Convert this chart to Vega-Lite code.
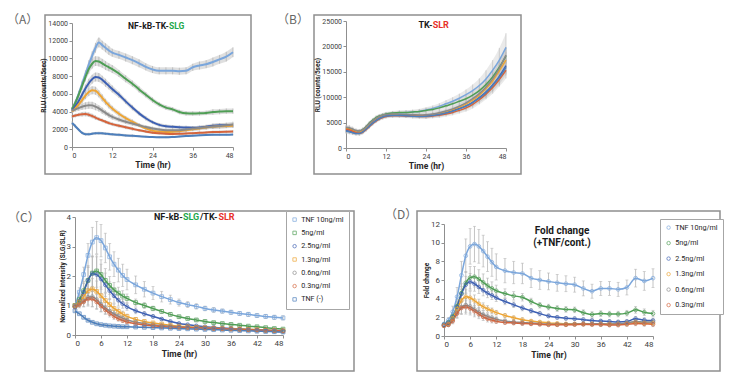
{
"$schema": "https://vega.github.io/schema/vega-lite/v6.json",
"padding": {"left": 6, "top": 12, "right": 0, "bottom": 0},
"background": "white",
"config": {
 "font": "Roboto",
 "view": {"stroke": "#8f8f8f", "strokeWidth": 1.5},
 "axis": {"grid": false, "labelFont": "Roboto", "labelColor": "#404040", "domainColor": "#8f8f8f", "tickColor": "#8f8f8f", "tickSize": 3, "labelPadding": 1.5, "titleFont": "Roboto", "titleFontWeight": "bold", "titleColor": "#262626", "titlePadding": 2},
 "axisX": {"titleFontSize": 8.5},
 "axisY": {"titleFontSize": 6.5, "titlePadding": 1}
},
"datasets": {
"A": [
{"s":"10","t":0,"v":4200,"e":250},{"s":"10","t":1,"v":5000,"e":300},{"s":"10","t":2,"v":6000,"e":350},{"s":"10","t":3,"v":7100,"e":400},{"s":"10","t":4,"v":8200,"e":450},{"s":"10","t":5,"v":9300,"e":500},{"s":"10","t":6,"v":10300,"e":500},{"s":"10","t":7,"v":11200,"e":550},{"s":"10","t":8,"v":11800,"e":550},{"s":"10","t":9,"v":11500,"e":500},{"s":"10","t":10,"v":11200,"e":500},{"s":"10","t":11,"v":10900,"e":500},{"s":"10","t":12,"v":10650,"e":450},{"s":"10","t":14,"v":10400,"e":450},{"s":"10","t":16,"v":10100,"e":450},{"s":"10","t":18,"v":9800,"e":450},{"s":"10","t":20,"v":9450,"e":450},{"s":"10","t":22,"v":9050,"e":400},{"s":"10","t":24,"v":8750,"e":400},{"s":"10","t":26,"v":8600,"e":400},{"s":"10","t":28,"v":8600,"e":400},{"s":"10","t":30,"v":8600,"e":400},{"s":"10","t":32,"v":8550,"e":400},{"s":"10","t":34,"v":8600,"e":400},{"s":"10","t":36,"v":9000,"e":400},{"s":"10","t":38,"v":9200,"e":450},{"s":"10","t":40,"v":9350,"e":450},{"s":"10","t":42,"v":9600,"e":500},{"s":"10","t":44,"v":9900,"e":500},{"s":"10","t":46,"v":10200,"e":550},{"s":"10","t":48,"v":10700,"e":550},
{"s":"5","t":0,"v":4300,"e":250},{"s":"5","t":1,"v":5000,"e":300},{"s":"5","t":2,"v":5900,"e":350},{"s":"5","t":3,"v":6900,"e":450},{"s":"5","t":4,"v":7900,"e":500},{"s":"5","t":5,"v":8800,"e":550},{"s":"5","t":6,"v":9400,"e":550},{"s":"5","t":7,"v":9700,"e":550},{"s":"5","t":8,"v":9650,"e":550},{"s":"5","t":9,"v":9450,"e":500},{"s":"5","t":10,"v":9200,"e":500},{"s":"5","t":11,"v":9000,"e":450},{"s":"5","t":12,"v":8800,"e":450},{"s":"5","t":14,"v":8300,"e":400},{"s":"5","t":16,"v":7700,"e":400},{"s":"5","t":18,"v":7150,"e":350},{"s":"5","t":20,"v":6500,"e":350},{"s":"5","t":22,"v":5900,"e":300},{"s":"5","t":24,"v":5300,"e":300},{"s":"5","t":26,"v":4800,"e":250},{"s":"5","t":28,"v":4450,"e":250},{"s":"5","t":30,"v":4250,"e":250},{"s":"5","t":32,"v":3950,"e":250},{"s":"5","t":34,"v":3800,"e":250},{"s":"5","t":36,"v":3780,"e":250},{"s":"5","t":38,"v":3800,"e":250},{"s":"5","t":40,"v":3850,"e":250},{"s":"5","t":42,"v":3950,"e":300},{"s":"5","t":44,"v":4000,"e":300},{"s":"5","t":46,"v":4050,"e":300},{"s":"5","t":48,"v":4050,"e":300},
{"s":"2.5","t":0,"v":4100,"e":250},{"s":"2.5","t":1,"v":4600,"e":300},{"s":"2.5","t":2,"v":5200,"e":350},{"s":"2.5","t":3,"v":5900,"e":400},{"s":"2.5","t":4,"v":6600,"e":450},{"s":"2.5","t":5,"v":7200,"e":500},{"s":"2.5","t":6,"v":7650,"e":500},{"s":"2.5","t":7,"v":7900,"e":500},{"s":"2.5","t":8,"v":7850,"e":500},{"s":"2.5","t":9,"v":7600,"e":450},{"s":"2.5","t":10,"v":7250,"e":450},{"s":"2.5","t":11,"v":6900,"e":400},{"s":"2.5","t":12,"v":6550,"e":400},{"s":"2.5","t":14,"v":5900,"e":350},{"s":"2.5","t":16,"v":5150,"e":300},{"s":"2.5","t":18,"v":4450,"e":300},{"s":"2.5","t":20,"v":3800,"e":250},{"s":"2.5","t":22,"v":3250,"e":250},{"s":"2.5","t":24,"v":2800,"e":200},{"s":"2.5","t":26,"v":2500,"e":200},{"s":"2.5","t":28,"v":2350,"e":200},{"s":"2.5","t":30,"v":2280,"e":200},{"s":"2.5","t":32,"v":2230,"e":200},{"s":"2.5","t":34,"v":2200,"e":200},{"s":"2.5","t":36,"v":2170,"e":200},{"s":"2.5","t":38,"v":2200,"e":200},{"s":"2.5","t":40,"v":2300,"e":200},{"s":"2.5","t":42,"v":2400,"e":250},{"s":"2.5","t":44,"v":2450,"e":250},{"s":"2.5","t":46,"v":2450,"e":250},{"s":"2.5","t":48,"v":2470,"e":250},
{"s":"1.3","t":0,"v":4000,"e":250},{"s":"1.3","t":1,"v":4350,"e":250},{"s":"1.3","t":2,"v":4800,"e":300},{"s":"1.3","t":3,"v":5300,"e":350},{"s":"1.3","t":4,"v":5800,"e":400},{"s":"1.3","t":5,"v":6200,"e":450},{"s":"1.3","t":6,"v":6400,"e":450},{"s":"1.3","t":7,"v":6350,"e":450},{"s":"1.3","t":8,"v":6000,"e":400},{"s":"1.3","t":9,"v":5550,"e":400},{"s":"1.3","t":10,"v":5100,"e":350},{"s":"1.3","t":11,"v":4700,"e":350},{"s":"1.3","t":12,"v":4350,"e":300},{"s":"1.3","t":14,"v":3750,"e":300},{"s":"1.3","t":16,"v":3250,"e":250},{"s":"1.3","t":18,"v":2850,"e":250},{"s":"1.3","t":20,"v":2450,"e":200},{"s":"1.3","t":22,"v":2100,"e":200},{"s":"1.3","t":24,"v":1850,"e":200},{"s":"1.3","t":26,"v":1750,"e":200},{"s":"1.3","t":28,"v":1700,"e":200},{"s":"1.3","t":30,"v":1720,"e":200},{"s":"1.3","t":32,"v":1780,"e":200},{"s":"1.3","t":34,"v":1880,"e":200},{"s":"1.3","t":36,"v":2000,"e":200},{"s":"1.3","t":38,"v":2100,"e":200},{"s":"1.3","t":40,"v":2200,"e":200},{"s":"1.3","t":42,"v":2280,"e":250},{"s":"1.3","t":44,"v":2340,"e":250},{"s":"1.3","t":46,"v":2380,"e":250},{"s":"1.3","t":48,"v":2400,"e":250},
{"s":"0.6","t":0,"v":4100,"e":250},{"s":"0.6","t":1,"v":4250,"e":250},{"s":"0.6","t":2,"v":4400,"e":300},{"s":"0.6","t":3,"v":4550,"e":350},{"s":"0.6","t":4,"v":4650,"e":400},{"s":"0.6","t":5,"v":4720,"e":400},{"s":"0.6","t":6,"v":4700,"e":400},{"s":"0.6","t":7,"v":4550,"e":400},{"s":"0.6","t":8,"v":4350,"e":350},{"s":"0.6","t":9,"v":4100,"e":350},{"s":"0.6","t":10,"v":3850,"e":300},{"s":"0.6","t":11,"v":3600,"e":300},{"s":"0.6","t":12,"v":3400,"e":300},{"s":"0.6","t":14,"v":3100,"e":250},{"s":"0.6","t":16,"v":2850,"e":250},{"s":"0.6","t":18,"v":2650,"e":250},{"s":"0.6","t":20,"v":2450,"e":200},{"s":"0.6","t":22,"v":2250,"e":200},{"s":"0.6","t":24,"v":2100,"e":200},{"s":"0.6","t":26,"v":1980,"e":200},{"s":"0.6","t":28,"v":1900,"e":200},{"s":"0.6","t":30,"v":1880,"e":200},{"s":"0.6","t":32,"v":1900,"e":200},{"s":"0.6","t":34,"v":1980,"e":200},{"s":"0.6","t":36,"v":2080,"e":250},{"s":"0.6","t":38,"v":2150,"e":250},{"s":"0.6","t":40,"v":2220,"e":250},{"s":"0.6","t":42,"v":2300,"e":250},{"s":"0.6","t":44,"v":2380,"e":300},{"s":"0.6","t":46,"v":2450,"e":300},{"s":"0.6","t":48,"v":2550,"e":300},
{"s":"0.3","t":0,"v":3450,"e":200},{"s":"0.3","t":1,"v":3550,"e":200},{"s":"0.3","t":2,"v":3650,"e":200},{"s":"0.3","t":3,"v":3700,"e":250},{"s":"0.3","t":4,"v":3720,"e":250},{"s":"0.3","t":5,"v":3650,"e":250},{"s":"0.3","t":6,"v":3500,"e":250},{"s":"0.3","t":7,"v":3320,"e":250},{"s":"0.3","t":8,"v":3150,"e":200},{"s":"0.3","t":9,"v":3000,"e":200},{"s":"0.3","t":10,"v":2850,"e":200},{"s":"0.3","t":11,"v":2700,"e":200},{"s":"0.3","t":12,"v":2580,"e":200},{"s":"0.3","t":14,"v":2400,"e":200},{"s":"0.3","t":16,"v":2220,"e":200},{"s":"0.3","t":18,"v":2050,"e":200},{"s":"0.3","t":20,"v":1880,"e":150},{"s":"0.3","t":22,"v":1740,"e":150},{"s":"0.3","t":24,"v":1620,"e":150},{"s":"0.3","t":26,"v":1550,"e":150},{"s":"0.3","t":28,"v":1500,"e":150},{"s":"0.3","t":30,"v":1480,"e":150},{"s":"0.3","t":32,"v":1490,"e":150},{"s":"0.3","t":34,"v":1520,"e":150},{"s":"0.3","t":36,"v":1560,"e":150},{"s":"0.3","t":38,"v":1600,"e":150},{"s":"0.3","t":40,"v":1640,"e":150},{"s":"0.3","t":42,"v":1680,"e":150},{"s":"0.3","t":44,"v":1700,"e":150},{"s":"0.3","t":46,"v":1720,"e":150},{"s":"0.3","t":48,"v":1750,"e":150},
{"s":"-","t":0,"v":2700,"e":200},{"s":"-","t":1,"v":2350,"e":200},{"s":"-","t":2,"v":1950,"e":150},{"s":"-","t":3,"v":1600,"e":150},{"s":"-","t":4,"v":1450,"e":150},{"s":"-","t":5,"v":1450,"e":150},{"s":"-","t":6,"v":1500,"e":150},{"s":"-","t":7,"v":1550,"e":150},{"s":"-","t":8,"v":1560,"e":150},{"s":"-","t":9,"v":1540,"e":150},{"s":"-","t":10,"v":1500,"e":150},{"s":"-","t":11,"v":1470,"e":150},{"s":"-","t":12,"v":1430,"e":150},{"s":"-","t":14,"v":1370,"e":150},{"s":"-","t":16,"v":1310,"e":150},{"s":"-","t":18,"v":1260,"e":150},{"s":"-","t":20,"v":1210,"e":100},{"s":"-","t":22,"v":1160,"e":100},{"s":"-","t":24,"v":1120,"e":100},{"s":"-","t":26,"v":1100,"e":100},{"s":"-","t":28,"v":1100,"e":100},{"s":"-","t":30,"v":1130,"e":100},{"s":"-","t":32,"v":1180,"e":100},{"s":"-","t":34,"v":1230,"e":100},{"s":"-","t":36,"v":1280,"e":100},{"s":"-","t":38,"v":1320,"e":100},{"s":"-","t":40,"v":1350,"e":100},{"s":"-","t":42,"v":1370,"e":100},{"s":"-","t":44,"v":1380,"e":100},{"s":"-","t":46,"v":1390,"e":100},{"s":"-","t":48,"v":1400,"e":100}
],
"B": [
{"s":"10","t":0,"v":3500,"e":500},{"s":"10","t":1,"v":3400,"e":500},{"s":"10","t":2,"v":3200,"e":450},{"s":"10","t":3,"v":3000,"e":400},{"s":"10","t":4,"v":3000,"e":400},{"s":"10","t":5,"v":3300,"e":400},{"s":"10","t":6,"v":3900,"e":400},{"s":"10","t":7,"v":4600,"e":400},{"s":"10","t":8,"v":5200,"e":400},{"s":"10","t":9,"v":5700,"e":400},{"s":"10","t":10,"v":6100,"e":400},{"s":"10","t":11,"v":6400,"e":400},{"s":"10","t":12,"v":6600,"e":400},{"s":"10","t":14,"v":6800,"e":400},{"s":"10","t":16,"v":6900,"e":450},{"s":"10","t":18,"v":7000,"e":450},{"s":"10","t":20,"v":7100,"e":450},{"s":"10","t":22,"v":7200,"e":500},{"s":"10","t":24,"v":7500,"e":500},{"s":"10","t":26,"v":7800,"e":550},{"s":"10","t":28,"v":8200,"e":600},{"s":"10","t":30,"v":8700,"e":700},{"s":"10","t":32,"v":9200,"e":800},{"s":"10","t":34,"v":9800,"e":900},{"s":"10","t":36,"v":10500,"e":1000},{"s":"10","t":38,"v":11300,"e":1200},{"s":"10","t":40,"v":12300,"e":1400},{"s":"10","t":42,"v":13600,"e":1700},{"s":"10","t":44,"v":15300,"e":2000},{"s":"10","t":46,"v":17300,"e":2400},{"s":"10","t":48,"v":19800,"e":2800},
{"s":"5","t":0,"v":3900,"e":500},{"s":"5","t":1,"v":3800,"e":500},{"s":"5","t":2,"v":3500,"e":450},{"s":"5","t":3,"v":3300,"e":400},{"s":"5","t":4,"v":3300,"e":400},{"s":"5","t":5,"v":3600,"e":400},{"s":"5","t":6,"v":4200,"e":400},{"s":"5","t":7,"v":4900,"e":400},{"s":"5","t":8,"v":5500,"e":400},{"s":"5","t":9,"v":6000,"e":400},{"s":"5","t":10,"v":6300,"e":400},{"s":"5","t":11,"v":6500,"e":400},{"s":"5","t":12,"v":6700,"e":400},{"s":"5","t":14,"v":6900,"e":400},{"s":"5","t":16,"v":7000,"e":400},{"s":"5","t":18,"v":7000,"e":400},{"s":"5","t":20,"v":7100,"e":400},{"s":"5","t":22,"v":7200,"e":400},{"s":"5","t":24,"v":7400,"e":450},{"s":"5","t":26,"v":7600,"e":450},{"s":"5","t":28,"v":7900,"e":500},{"s":"5","t":30,"v":8300,"e":500},{"s":"5","t":32,"v":8700,"e":550},{"s":"5","t":34,"v":9200,"e":600},{"s":"5","t":36,"v":9700,"e":700},{"s":"5","t":38,"v":10400,"e":800},{"s":"5","t":40,"v":11300,"e":900},{"s":"5","t":42,"v":12500,"e":1000},{"s":"5","t":44,"v":14000,"e":1200},{"s":"5","t":46,"v":15900,"e":1400},{"s":"5","t":48,"v":18100,"e":1600},
{"s":"2.5","t":0,"v":3400,"e":500},{"s":"2.5","t":1,"v":3300,"e":500},{"s":"2.5","t":2,"v":3100,"e":450},{"s":"2.5","t":3,"v":2900,"e":400},{"s":"2.5","t":4,"v":2900,"e":400},{"s":"2.5","t":5,"v":3200,"e":400},{"s":"2.5","t":6,"v":3800,"e":400},{"s":"2.5","t":7,"v":4400,"e":400},{"s":"2.5","t":8,"v":5000,"e":400},{"s":"2.5","t":9,"v":5500,"e":400},{"s":"2.5","t":10,"v":5900,"e":400},{"s":"2.5","t":11,"v":6200,"e":400},{"s":"2.5","t":12,"v":6400,"e":400},{"s":"2.5","t":14,"v":6500,"e":400},{"s":"2.5","t":16,"v":6500,"e":400},{"s":"2.5","t":18,"v":6400,"e":400},{"s":"2.5","t":20,"v":6300,"e":400},{"s":"2.5","t":22,"v":6300,"e":400},{"s":"2.5","t":24,"v":6300,"e":450},{"s":"2.5","t":26,"v":6500,"e":450},{"s":"2.5","t":28,"v":6700,"e":500},{"s":"2.5","t":30,"v":7000,"e":500},{"s":"2.5","t":32,"v":7350,"e":550},{"s":"2.5","t":34,"v":7800,"e":600},{"s":"2.5","t":36,"v":8300,"e":700},{"s":"2.5","t":38,"v":9000,"e":800},{"s":"2.5","t":40,"v":9900,"e":900},{"s":"2.5","t":42,"v":11000,"e":1000},{"s":"2.5","t":44,"v":12400,"e":1200},{"s":"2.5","t":46,"v":14100,"e":1400},{"s":"2.5","t":48,"v":16200,"e":1600},
{"s":"1.3","t":0,"v":3800,"e":500},{"s":"1.3","t":1,"v":3700,"e":500},{"s":"1.3","t":2,"v":3450,"e":450},{"s":"1.3","t":3,"v":3200,"e":400},{"s":"1.3","t":4,"v":3150,"e":400},{"s":"1.3","t":5,"v":3400,"e":400},{"s":"1.3","t":6,"v":4000,"e":400},{"s":"1.3","t":7,"v":4650,"e":400},{"s":"1.3","t":8,"v":5250,"e":400},{"s":"1.3","t":9,"v":5750,"e":400},{"s":"1.3","t":10,"v":6100,"e":400},{"s":"1.3","t":11,"v":6350,"e":400},{"s":"1.3","t":12,"v":6500,"e":400},{"s":"1.3","t":14,"v":6600,"e":400},{"s":"1.3","t":16,"v":6550,"e":400},{"s":"1.3","t":18,"v":6500,"e":400},{"s":"1.3","t":20,"v":6450,"e":400},{"s":"1.3","t":22,"v":6400,"e":400},{"s":"1.3","t":24,"v":6450,"e":450},{"s":"1.3","t":26,"v":6600,"e":450},{"s":"1.3","t":28,"v":6850,"e":500},{"s":"1.3","t":30,"v":7150,"e":500},{"s":"1.3","t":32,"v":7550,"e":550},{"s":"1.3","t":34,"v":8050,"e":600},{"s":"1.3","t":36,"v":8650,"e":700},{"s":"1.3","t":38,"v":9400,"e":800},{"s":"1.3","t":40,"v":10400,"e":900},{"s":"1.3","t":42,"v":11700,"e":1000},{"s":"1.3","t":44,"v":13200,"e":1200},{"s":"1.3","t":46,"v":15200,"e":1400},{"s":"1.3","t":48,"v":17300,"e":1600},
{"s":"0.6","t":0,"v":4100,"e":500},{"s":"0.6","t":1,"v":4000,"e":500},{"s":"0.6","t":2,"v":3750,"e":450},{"s":"0.6","t":3,"v":3450,"e":400},{"s":"0.6","t":4,"v":3350,"e":400},{"s":"0.6","t":5,"v":3600,"e":400},{"s":"0.6","t":6,"v":4150,"e":400},{"s":"0.6","t":7,"v":4800,"e":400},{"s":"0.6","t":8,"v":5350,"e":400},{"s":"0.6","t":9,"v":5850,"e":400},{"s":"0.6","t":10,"v":6200,"e":400},{"s":"0.6","t":11,"v":6450,"e":400},{"s":"0.6","t":12,"v":6600,"e":400},{"s":"0.6","t":14,"v":6700,"e":400},{"s":"0.6","t":16,"v":6650,"e":400},{"s":"0.6","t":18,"v":6600,"e":400},{"s":"0.6","t":20,"v":6550,"e":400},{"s":"0.6","t":22,"v":6500,"e":400},{"s":"0.6","t":24,"v":6550,"e":450},{"s":"0.6","t":26,"v":6700,"e":450},{"s":"0.6","t":28,"v":6950,"e":500},{"s":"0.6","t":30,"v":7300,"e":500},{"s":"0.6","t":32,"v":7700,"e":550},{"s":"0.6","t":34,"v":8250,"e":600},{"s":"0.6","t":36,"v":8900,"e":700},{"s":"0.6","t":38,"v":9700,"e":800},{"s":"0.6","t":40,"v":10700,"e":900},{"s":"0.6","t":42,"v":12000,"e":1000},{"s":"0.6","t":44,"v":13600,"e":1200},{"s":"0.6","t":46,"v":15700,"e":1400},{"s":"0.6","t":48,"v":18300,"e":1600},
{"s":"0.3","t":0,"v":3700,"e":500},{"s":"0.3","t":1,"v":3600,"e":500},{"s":"0.3","t":2,"v":3300,"e":450},{"s":"0.3","t":3,"v":3000,"e":400},{"s":"0.3","t":4,"v":2900,"e":400},{"s":"0.3","t":5,"v":3100,"e":400},{"s":"0.3","t":6,"v":3600,"e":400},{"s":"0.3","t":7,"v":4200,"e":400},{"s":"0.3","t":8,"v":4800,"e":400},{"s":"0.3","t":9,"v":5300,"e":400},{"s":"0.3","t":10,"v":5700,"e":400},{"s":"0.3","t":11,"v":6000,"e":400},{"s":"0.3","t":12,"v":6200,"e":400},{"s":"0.3","t":14,"v":6350,"e":400},{"s":"0.3","t":16,"v":6350,"e":400},{"s":"0.3","t":18,"v":6300,"e":400},{"s":"0.3","t":20,"v":6250,"e":400},{"s":"0.3","t":22,"v":6200,"e":400},{"s":"0.3","t":24,"v":6200,"e":450},{"s":"0.3","t":26,"v":6300,"e":450},{"s":"0.3","t":28,"v":6450,"e":500},{"s":"0.3","t":30,"v":6700,"e":500},{"s":"0.3","t":32,"v":7000,"e":550},{"s":"0.3","t":34,"v":7400,"e":600},{"s":"0.3","t":36,"v":7900,"e":700},{"s":"0.3","t":38,"v":8600,"e":800},{"s":"0.3","t":40,"v":9500,"e":900},{"s":"0.3","t":42,"v":10600,"e":1000},{"s":"0.3","t":44,"v":11900,"e":1200},{"s":"0.3","t":46,"v":13500,"e":1400},{"s":"0.3","t":48,"v":15300,"e":1600},
{"s":"-","t":0,"v":3300,"e":500},{"s":"-","t":1,"v":3200,"e":500},{"s":"-","t":2,"v":3000,"e":450},{"s":"-","t":3,"v":2850,"e":400},{"s":"-","t":4,"v":2850,"e":400},{"s":"-","t":5,"v":3150,"e":400},{"s":"-","t":6,"v":3700,"e":400},{"s":"-","t":7,"v":4300,"e":400},{"s":"-","t":8,"v":4900,"e":400},{"s":"-","t":9,"v":5400,"e":400},{"s":"-","t":10,"v":5800,"e":400},{"s":"-","t":11,"v":6100,"e":400},{"s":"-","t":12,"v":6300,"e":400},{"s":"-","t":14,"v":6400,"e":400},{"s":"-","t":16,"v":6400,"e":400},{"s":"-","t":18,"v":6350,"e":400},{"s":"-","t":20,"v":6250,"e":400},{"s":"-","t":22,"v":6200,"e":400},{"s":"-","t":24,"v":6250,"e":450},{"s":"-","t":26,"v":6400,"e":450},{"s":"-","t":28,"v":6600,"e":500},{"s":"-","t":30,"v":6900,"e":500},{"s":"-","t":32,"v":7250,"e":550},{"s":"-","t":34,"v":7700,"e":600},{"s":"-","t":36,"v":8250,"e":700},{"s":"-","t":38,"v":8950,"e":800},{"s":"-","t":40,"v":9850,"e":900},{"s":"-","t":42,"v":10900,"e":1000},{"s":"-","t":44,"v":12300,"e":1200},{"s":"-","t":46,"v":13900,"e":1400},{"s":"-","t":48,"v":15900,"e":1600}
],
"C": [
{"s":"10","t":0,"v":1.0,"e":0.05},{"s":"10","t":1,"v":1.45,"e":0.15},{"s":"10","t":2,"v":2.05,"e":0.25},{"s":"10","t":3,"v":2.7,"e":0.4},{"s":"10","t":4,"v":3.15,"e":0.5},{"s":"10","t":5,"v":3.3,"e":0.55},{"s":"10","t":6,"v":3.2,"e":0.55},{"s":"10","t":7,"v":2.95,"e":0.5},{"s":"10","t":8,"v":2.65,"e":0.45},{"s":"10","t":9,"v":2.4,"e":0.42},{"s":"10","t":10,"v":2.2,"e":0.4},{"s":"10","t":11,"v":2.02,"e":0.38},{"s":"10","t":12,"v":1.88,"e":0.35},{"s":"10","t":14,"v":1.7,"e":0.3},{"s":"10","t":16,"v":1.55,"e":0.26},{"s":"10","t":18,"v":1.42,"e":0.22},{"s":"10","t":20,"v":1.3,"e":0.18},{"s":"10","t":22,"v":1.2,"e":0.15},{"s":"10","t":24,"v":1.1,"e":0.12},{"s":"10","t":26,"v":1.03,"e":0.1},{"s":"10","t":28,"v":0.97,"e":0.09},{"s":"10","t":30,"v":0.9,"e":0.08},{"s":"10","t":32,"v":0.85,"e":0.08},{"s":"10","t":34,"v":0.81,"e":0.07},{"s":"10","t":36,"v":0.77,"e":0.07},{"s":"10","t":38,"v":0.73,"e":0.07},{"s":"10","t":40,"v":0.7,"e":0.07},{"s":"10","t":42,"v":0.66,"e":0.07},{"s":"10","t":44,"v":0.63,"e":0.07},{"s":"10","t":46,"v":0.6,"e":0.07},{"s":"10","t":48,"v":0.58,"e":0.07},
{"s":"5","t":0,"v":1.0,"e":0.05},{"s":"5","t":1,"v":1.2,"e":0.15},{"s":"5","t":2,"v":1.5,"e":0.3},{"s":"5","t":3,"v":1.85,"e":0.45},{"s":"5","t":4,"v":2.1,"e":0.55},{"s":"5","t":5,"v":2.17,"e":0.55},{"s":"5","t":6,"v":2.05,"e":0.5},{"s":"5","t":7,"v":1.85,"e":0.4},{"s":"5","t":8,"v":1.68,"e":0.3},{"s":"5","t":9,"v":1.53,"e":0.25},{"s":"5","t":10,"v":1.42,"e":0.2},{"s":"5","t":11,"v":1.32,"e":0.18},{"s":"5","t":12,"v":1.24,"e":0.15},{"s":"5","t":14,"v":1.1,"e":0.12},{"s":"5","t":16,"v":1.0,"e":0.1},{"s":"5","t":18,"v":0.9,"e":0.08},{"s":"5","t":20,"v":0.8,"e":0.07},{"s":"5","t":22,"v":0.7,"e":0.06},{"s":"5","t":24,"v":0.62,"e":0.05},{"s":"5","t":26,"v":0.56,"e":0.05},{"s":"5","t":28,"v":0.51,"e":0.05},{"s":"5","t":30,"v":0.46,"e":0.05},{"s":"5","t":32,"v":0.42,"e":0.04},{"s":"5","t":34,"v":0.39,"e":0.04},{"s":"5","t":36,"v":0.36,"e":0.04},{"s":"5","t":38,"v":0.33,"e":0.04},{"s":"5","t":40,"v":0.3,"e":0.04},{"s":"5","t":42,"v":0.28,"e":0.04},{"s":"5","t":44,"v":0.25,"e":0.04},{"s":"5","t":46,"v":0.22,"e":0.04},{"s":"5","t":48,"v":0.2,"e":0.04},
{"s":"2.5","t":0,"v":0.95,"e":0.05},{"s":"2.5","t":1,"v":1.15,"e":0.15},{"s":"2.5","t":2,"v":1.45,"e":0.3},{"s":"2.5","t":3,"v":1.85,"e":0.5},{"s":"2.5","t":4,"v":2.08,"e":0.6},{"s":"2.5","t":5,"v":2.05,"e":0.6},{"s":"2.5","t":6,"v":1.9,"e":0.5},{"s":"2.5","t":7,"v":1.7,"e":0.4},{"s":"2.5","t":8,"v":1.5,"e":0.3},{"s":"2.5","t":9,"v":1.33,"e":0.25},{"s":"2.5","t":10,"v":1.18,"e":0.2},{"s":"2.5","t":11,"v":1.06,"e":0.15},{"s":"2.5","t":12,"v":0.96,"e":0.12},{"s":"2.5","t":14,"v":0.82,"e":0.1},{"s":"2.5","t":16,"v":0.72,"e":0.08},{"s":"2.5","t":18,"v":0.63,"e":0.06},{"s":"2.5","t":20,"v":0.54,"e":0.05},{"s":"2.5","t":22,"v":0.46,"e":0.04},{"s":"2.5","t":24,"v":0.39,"e":0.04},{"s":"2.5","t":26,"v":0.35,"e":0.04},{"s":"2.5","t":28,"v":0.31,"e":0.04},{"s":"2.5","t":30,"v":0.28,"e":0.03},{"s":"2.5","t":32,"v":0.26,"e":0.03},{"s":"2.5","t":34,"v":0.24,"e":0.03},{"s":"2.5","t":36,"v":0.22,"e":0.03},{"s":"2.5","t":38,"v":0.2,"e":0.03},{"s":"2.5","t":40,"v":0.18,"e":0.03},{"s":"2.5","t":42,"v":0.16,"e":0.03},{"s":"2.5","t":44,"v":0.15,"e":0.03},{"s":"2.5","t":46,"v":0.13,"e":0.03},{"s":"2.5","t":48,"v":0.12,"e":0.03},
{"s":"1.3","t":0,"v":1.0,"e":0.05},{"s":"1.3","t":1,"v":1.12,"e":0.1},{"s":"1.3","t":2,"v":1.3,"e":0.2},{"s":"1.3","t":3,"v":1.5,"e":0.3},{"s":"1.3","t":4,"v":1.56,"e":0.35},{"s":"1.3","t":5,"v":1.48,"e":0.35},{"s":"1.3","t":6,"v":1.33,"e":0.3},{"s":"1.3","t":7,"v":1.17,"e":0.25},{"s":"1.3","t":8,"v":1.03,"e":0.2},{"s":"1.3","t":9,"v":0.9,"e":0.15},{"s":"1.3","t":10,"v":0.8,"e":0.12},{"s":"1.3","t":11,"v":0.71,"e":0.1},{"s":"1.3","t":12,"v":0.63,"e":0.08},{"s":"1.3","t":14,"v":0.53,"e":0.06},{"s":"1.3","t":16,"v":0.46,"e":0.05},{"s":"1.3","t":18,"v":0.41,"e":0.04},{"s":"1.3","t":20,"v":0.37,"e":0.04},{"s":"1.3","t":22,"v":0.33,"e":0.03},{"s":"1.3","t":24,"v":0.3,"e":0.03},{"s":"1.3","t":26,"v":0.28,"e":0.03},{"s":"1.3","t":28,"v":0.26,"e":0.03},{"s":"1.3","t":30,"v":0.25,"e":0.03},{"s":"1.3","t":32,"v":0.23,"e":0.03},{"s":"1.3","t":34,"v":0.22,"e":0.03},{"s":"1.3","t":36,"v":0.21,"e":0.03},{"s":"1.3","t":38,"v":0.2,"e":0.03},{"s":"1.3","t":40,"v":0.19,"e":0.03},{"s":"1.3","t":42,"v":0.18,"e":0.03},{"s":"1.3","t":44,"v":0.16,"e":0.03},{"s":"1.3","t":46,"v":0.15,"e":0.03},{"s":"1.3","t":48,"v":0.14,"e":0.03},
{"s":"0.6","t":0,"v":1.0,"e":0.05},{"s":"0.6","t":1,"v":1.05,"e":0.1},{"s":"0.6","t":2,"v":1.15,"e":0.2},{"s":"0.6","t":3,"v":1.28,"e":0.3},{"s":"0.6","t":4,"v":1.3,"e":0.35},{"s":"0.6","t":5,"v":1.2,"e":0.3},{"s":"0.6","t":6,"v":1.05,"e":0.25},{"s":"0.6","t":7,"v":0.92,"e":0.2},{"s":"0.6","t":8,"v":0.81,"e":0.15},{"s":"0.6","t":9,"v":0.72,"e":0.12},{"s":"0.6","t":10,"v":0.64,"e":0.1},{"s":"0.6","t":11,"v":0.57,"e":0.08},{"s":"0.6","t":12,"v":0.51,"e":0.07},{"s":"0.6","t":14,"v":0.44,"e":0.05},{"s":"0.6","t":16,"v":0.39,"e":0.04},{"s":"0.6","t":18,"v":0.35,"e":0.04},{"s":"0.6","t":20,"v":0.32,"e":0.03},{"s":"0.6","t":22,"v":0.3,"e":0.03},{"s":"0.6","t":24,"v":0.28,"e":0.03},{"s":"0.6","t":26,"v":0.26,"e":0.03},{"s":"0.6","t":28,"v":0.25,"e":0.03},{"s":"0.6","t":30,"v":0.24,"e":0.03},{"s":"0.6","t":32,"v":0.23,"e":0.03},{"s":"0.6","t":34,"v":0.22,"e":0.03},{"s":"0.6","t":36,"v":0.21,"e":0.03},{"s":"0.6","t":38,"v":0.2,"e":0.03},{"s":"0.6","t":40,"v":0.19,"e":0.03},{"s":"0.6","t":42,"v":0.18,"e":0.03},{"s":"0.6","t":44,"v":0.17,"e":0.03},{"s":"0.6","t":46,"v":0.16,"e":0.03},{"s":"0.6","t":48,"v":0.15,"e":0.03},
{"s":"0.3","t":0,"v":0.95,"e":0.05},{"s":"0.3","t":1,"v":1.02,"e":0.1},{"s":"0.3","t":2,"v":1.12,"e":0.15},{"s":"0.3","t":3,"v":1.22,"e":0.2},{"s":"0.3","t":4,"v":1.22,"e":0.25},{"s":"0.3","t":5,"v":1.12,"e":0.25},{"s":"0.3","t":6,"v":0.98,"e":0.2},{"s":"0.3","t":7,"v":0.85,"e":0.15},{"s":"0.3","t":8,"v":0.73,"e":0.12},{"s":"0.3","t":9,"v":0.63,"e":0.1},{"s":"0.3","t":10,"v":0.55,"e":0.08},{"s":"0.3","t":11,"v":0.49,"e":0.07},{"s":"0.3","t":12,"v":0.44,"e":0.06},{"s":"0.3","t":14,"v":0.38,"e":0.05},{"s":"0.3","t":16,"v":0.34,"e":0.04},{"s":"0.3","t":18,"v":0.31,"e":0.04},{"s":"0.3","t":20,"v":0.29,"e":0.03},{"s":"0.3","t":22,"v":0.27,"e":0.03},{"s":"0.3","t":24,"v":0.26,"e":0.03},{"s":"0.3","t":26,"v":0.25,"e":0.03},{"s":"0.3","t":28,"v":0.24,"e":0.03},{"s":"0.3","t":30,"v":0.23,"e":0.03},{"s":"0.3","t":32,"v":0.22,"e":0.03},{"s":"0.3","t":34,"v":0.21,"e":0.03},{"s":"0.3","t":36,"v":0.2,"e":0.03},{"s":"0.3","t":38,"v":0.19,"e":0.03},{"s":"0.3","t":40,"v":0.18,"e":0.03},{"s":"0.3","t":42,"v":0.17,"e":0.03},{"s":"0.3","t":44,"v":0.16,"e":0.03},{"s":"0.3","t":46,"v":0.15,"e":0.03},{"s":"0.3","t":48,"v":0.14,"e":0.03},
{"s":"-","t":0,"v":0.82,"e":0.03},{"s":"-","t":1,"v":0.72,"e":0.03},{"s":"-","t":2,"v":0.6,"e":0.03},{"s":"-","t":3,"v":0.5,"e":0.03},{"s":"-","t":4,"v":0.43,"e":0.03},{"s":"-","t":5,"v":0.38,"e":0.03},{"s":"-","t":6,"v":0.35,"e":0.03},{"s":"-","t":7,"v":0.33,"e":0.03},{"s":"-","t":8,"v":0.31,"e":0.03},{"s":"-","t":9,"v":0.3,"e":0.03},{"s":"-","t":10,"v":0.29,"e":0.03},{"s":"-","t":11,"v":0.28,"e":0.03},{"s":"-","t":12,"v":0.28,"e":0.03},{"s":"-","t":14,"v":0.27,"e":0.03},{"s":"-","t":16,"v":0.26,"e":0.03},{"s":"-","t":18,"v":0.25,"e":0.03},{"s":"-","t":20,"v":0.24,"e":0.03},{"s":"-","t":22,"v":0.23,"e":0.03},{"s":"-","t":24,"v":0.22,"e":0.03},{"s":"-","t":26,"v":0.21,"e":0.03},{"s":"-","t":28,"v":0.2,"e":0.03},{"s":"-","t":30,"v":0.19,"e":0.03},{"s":"-","t":32,"v":0.18,"e":0.03},{"s":"-","t":34,"v":0.17,"e":0.03},{"s":"-","t":36,"v":0.16,"e":0.03},{"s":"-","t":38,"v":0.15,"e":0.03},{"s":"-","t":40,"v":0.14,"e":0.03},{"s":"-","t":42,"v":0.13,"e":0.03},{"s":"-","t":44,"v":0.12,"e":0.03},{"s":"-","t":46,"v":0.11,"e":0.03},{"s":"-","t":48,"v":0.1,"e":0.03}
],
"D": [
{"s":"10","t":0,"v":1.3,"e":0.15},{"s":"10","t":1,"v":1.7,"e":0.3},{"s":"10","t":2,"v":2.6,"e":0.6},{"s":"10","t":3,"v":4.2,"e":1.0},{"s":"10","t":4,"v":6.5,"e":1.5},{"s":"10","t":5,"v":8.6,"e":1.8},{"s":"10","t":6,"v":9.6,"e":1.9},{"s":"10","t":7,"v":9.85,"e":1.9},{"s":"10","t":8,"v":9.6,"e":1.8},{"s":"10","t":9,"v":9.1,"e":1.7},{"s":"10","t":10,"v":8.5,"e":1.6},{"s":"10","t":11,"v":7.9,"e":1.5},{"s":"10","t":12,"v":7.4,"e":1.4},{"s":"10","t":14,"v":7.0,"e":1.3},{"s":"10","t":16,"v":6.8,"e":1.2},{"s":"10","t":18,"v":6.7,"e":1.1},{"s":"10","t":20,"v":6.2,"e":1.0},{"s":"10","t":22,"v":6.0,"e":1.0},{"s":"10","t":24,"v":5.85,"e":0.9},{"s":"10","t":26,"v":5.7,"e":0.9},{"s":"10","t":28,"v":5.6,"e":0.85},{"s":"10","t":30,"v":5.5,"e":0.8},{"s":"10","t":32,"v":5.1,"e":0.8},{"s":"10","t":34,"v":4.8,"e":0.75},{"s":"10","t":36,"v":5.1,"e":0.75},{"s":"10","t":38,"v":5.1,"e":0.75},{"s":"10","t":40,"v":5.0,"e":0.75},{"s":"10","t":42,"v":5.2,"e":0.8},{"s":"10","t":44,"v":6.2,"e":0.95},{"s":"10","t":46,"v":5.9,"e":1.0},{"s":"10","t":48,"v":6.2,"e":1.0},
{"s":"5","t":0,"v":1.2,"e":0.1},{"s":"5","t":1,"v":1.45,"e":0.2},{"s":"5","t":2,"v":2.1,"e":0.4},{"s":"5","t":3,"v":3.2,"e":0.7},{"s":"5","t":4,"v":4.6,"e":1.0},{"s":"5","t":5,"v":5.7,"e":1.2},{"s":"5","t":6,"v":6.25,"e":1.2},{"s":"5","t":7,"v":6.35,"e":1.1},{"s":"5","t":8,"v":6.1,"e":1.0},{"s":"5","t":9,"v":5.75,"e":0.9},{"s":"5","t":10,"v":5.4,"e":0.8},{"s":"5","t":11,"v":5.1,"e":0.7},{"s":"5","t":12,"v":4.85,"e":0.6},{"s":"5","t":14,"v":4.55,"e":0.5},{"s":"5","t":16,"v":4.3,"e":0.45},{"s":"5","t":18,"v":4.15,"e":0.4},{"s":"5","t":20,"v":3.7,"e":0.35},{"s":"5","t":22,"v":3.3,"e":0.3},{"s":"5","t":24,"v":3.1,"e":0.3},{"s":"5","t":26,"v":2.95,"e":0.3},{"s":"5","t":28,"v":2.85,"e":0.3},{"s":"5","t":30,"v":2.8,"e":0.3},{"s":"5","t":32,"v":2.5,"e":0.3},{"s":"5","t":34,"v":2.3,"e":0.3},{"s":"5","t":36,"v":2.4,"e":0.3},{"s":"5","t":38,"v":2.35,"e":0.3},{"s":"5","t":40,"v":2.35,"e":0.3},{"s":"5","t":42,"v":2.45,"e":0.3},{"s":"5","t":44,"v":2.8,"e":0.35},{"s":"5","t":46,"v":2.55,"e":0.35},{"s":"5","t":48,"v":2.4,"e":0.35},
{"s":"2.5","t":0,"v":1.2,"e":0.1},{"s":"2.5","t":1,"v":1.4,"e":0.2},{"s":"2.5","t":2,"v":2.0,"e":0.35},{"s":"2.5","t":3,"v":3.1,"e":0.6},{"s":"2.5","t":4,"v":4.5,"e":0.8},{"s":"2.5","t":5,"v":5.5,"e":0.9},{"s":"2.5","t":6,"v":5.8,"e":0.9},{"s":"2.5","t":7,"v":5.6,"e":0.8},{"s":"2.5","t":8,"v":5.25,"e":0.7},{"s":"2.5","t":9,"v":4.9,"e":0.6},{"s":"2.5","t":10,"v":4.6,"e":0.5},{"s":"2.5","t":11,"v":4.35,"e":0.45},{"s":"2.5","t":12,"v":4.1,"e":0.4},{"s":"2.5","t":14,"v":3.7,"e":0.35},{"s":"2.5","t":16,"v":3.35,"e":0.3},{"s":"2.5","t":18,"v":3.0,"e":0.3},{"s":"2.5","t":20,"v":2.7,"e":0.25},{"s":"2.5","t":22,"v":2.4,"e":0.25},{"s":"2.5","t":24,"v":2.15,"e":0.2},{"s":"2.5","t":26,"v":2.0,"e":0.2},{"s":"2.5","t":28,"v":1.9,"e":0.2},{"s":"2.5","t":30,"v":1.85,"e":0.2},{"s":"2.5","t":32,"v":1.75,"e":0.2},{"s":"2.5","t":34,"v":1.65,"e":0.2},{"s":"2.5","t":36,"v":1.6,"e":0.2},{"s":"2.5","t":38,"v":1.55,"e":0.2},{"s":"2.5","t":40,"v":1.5,"e":0.2},{"s":"2.5","t":42,"v":1.55,"e":0.2},{"s":"2.5","t":44,"v":1.85,"e":0.25},{"s":"2.5","t":46,"v":1.7,"e":0.25},{"s":"2.5","t":48,"v":1.65,"e":0.25},
{"s":"1.3","t":0,"v":1.1,"e":0.1},{"s":"1.3","t":1,"v":1.3,"e":0.15},{"s":"1.3","t":2,"v":1.9,"e":0.3},{"s":"1.3","t":3,"v":2.9,"e":0.5},{"s":"1.3","t":4,"v":3.8,"e":0.7},{"s":"1.3","t":5,"v":4.2,"e":0.75},{"s":"1.3","t":6,"v":4.1,"e":0.7},{"s":"1.3","t":7,"v":3.8,"e":0.6},{"s":"1.3","t":8,"v":3.45,"e":0.5},{"s":"1.3","t":9,"v":3.15,"e":0.4},{"s":"1.3","t":10,"v":2.9,"e":0.35},{"s":"1.3","t":11,"v":2.7,"e":0.3},{"s":"1.3","t":12,"v":2.5,"e":0.25},{"s":"1.3","t":14,"v":2.2,"e":0.2},{"s":"1.3","t":16,"v":1.95,"e":0.2},{"s":"1.3","t":18,"v":1.75,"e":0.2},{"s":"1.3","t":20,"v":1.6,"e":0.15},{"s":"1.3","t":22,"v":1.5,"e":0.15},{"s":"1.3","t":24,"v":1.4,"e":0.15},{"s":"1.3","t":26,"v":1.35,"e":0.15},{"s":"1.3","t":28,"v":1.3,"e":0.15},{"s":"1.3","t":30,"v":1.3,"e":0.15},{"s":"1.3","t":32,"v":1.3,"e":0.15},{"s":"1.3","t":34,"v":1.3,"e":0.15},{"s":"1.3","t":36,"v":1.3,"e":0.2},{"s":"1.3","t":38,"v":1.3,"e":0.2},{"s":"1.3","t":40,"v":1.3,"e":0.2},{"s":"1.3","t":42,"v":1.35,"e":0.2},{"s":"1.3","t":44,"v":1.5,"e":0.25},{"s":"1.3","t":46,"v":1.4,"e":0.25},{"s":"1.3","t":48,"v":1.4,"e":0.25},
{"s":"0.6","t":0,"v":1.1,"e":0.1},{"s":"0.6","t":1,"v":1.2,"e":0.15},{"s":"0.6","t":2,"v":1.7,"e":0.3},{"s":"0.6","t":3,"v":2.5,"e":0.5},{"s":"0.6","t":4,"v":3.1,"e":0.7},{"s":"0.6","t":5,"v":3.3,"e":0.75},{"s":"0.6","t":6,"v":3.15,"e":0.7},{"s":"0.6","t":7,"v":2.85,"e":0.6},{"s":"0.6","t":8,"v":2.55,"e":0.5},{"s":"0.6","t":9,"v":2.3,"e":0.4},{"s":"0.6","t":10,"v":2.1,"e":0.35},{"s":"0.6","t":11,"v":1.95,"e":0.3},{"s":"0.6","t":12,"v":1.8,"e":0.25},{"s":"0.6","t":14,"v":1.62,"e":0.2},{"s":"0.6","t":16,"v":1.5,"e":0.2},{"s":"0.6","t":18,"v":1.45,"e":0.2},{"s":"0.6","t":20,"v":1.38,"e":0.15},{"s":"0.6","t":22,"v":1.32,"e":0.15},{"s":"0.6","t":24,"v":1.28,"e":0.15},{"s":"0.6","t":26,"v":1.25,"e":0.15},{"s":"0.6","t":28,"v":1.25,"e":0.15},{"s":"0.6","t":30,"v":1.28,"e":0.15},{"s":"0.6","t":32,"v":1.28,"e":0.15},{"s":"0.6","t":34,"v":1.3,"e":0.15},{"s":"0.6","t":36,"v":1.3,"e":0.2},{"s":"0.6","t":38,"v":1.25,"e":0.2},{"s":"0.6","t":40,"v":1.3,"e":0.2},{"s":"0.6","t":42,"v":1.4,"e":0.2},{"s":"0.6","t":44,"v":1.55,"e":0.25},{"s":"0.6","t":46,"v":1.5,"e":0.25},{"s":"0.6","t":48,"v":1.5,"e":0.25},
{"s":"0.3","t":0,"v":1.1,"e":0.1},{"s":"0.3","t":1,"v":1.2,"e":0.15},{"s":"0.3","t":2,"v":1.6,"e":0.3},{"s":"0.3","t":3,"v":2.4,"e":0.5},{"s":"0.3","t":4,"v":3.0,"e":0.7},{"s":"0.3","t":5,"v":3.1,"e":0.75},{"s":"0.3","t":6,"v":2.95,"e":0.7},{"s":"0.3","t":7,"v":2.65,"e":0.6},{"s":"0.3","t":8,"v":2.35,"e":0.5},{"s":"0.3","t":9,"v":2.05,"e":0.4},{"s":"0.3","t":10,"v":1.85,"e":0.35},{"s":"0.3","t":11,"v":1.7,"e":0.3},{"s":"0.3","t":12,"v":1.58,"e":0.25},{"s":"0.3","t":14,"v":1.45,"e":0.2},{"s":"0.3","t":16,"v":1.4,"e":0.2},{"s":"0.3","t":18,"v":1.35,"e":0.2},{"s":"0.3","t":20,"v":1.3,"e":0.15},{"s":"0.3","t":22,"v":1.25,"e":0.15},{"s":"0.3","t":24,"v":1.2,"e":0.15},{"s":"0.3","t":26,"v":1.2,"e":0.15},{"s":"0.3","t":28,"v":1.2,"e":0.15},{"s":"0.3","t":30,"v":1.22,"e":0.15},{"s":"0.3","t":32,"v":1.25,"e":0.15},{"s":"0.3","t":34,"v":1.22,"e":0.15},{"s":"0.3","t":36,"v":1.22,"e":0.2},{"s":"0.3","t":38,"v":1.18,"e":0.2},{"s":"0.3","t":40,"v":1.18,"e":0.2},{"s":"0.3","t":42,"v":1.25,"e":0.2},{"s":"0.3","t":44,"v":1.35,"e":0.25},{"s":"0.3","t":46,"v":1.3,"e":0.25},{"s":"0.3","t":48,"v":1.25,"e":0.25}
]
},
"vconcat": [
{
 "hconcat": [
  {
   "width": 206, "height": 159,
   "data": {"name": "A"},
   "encoding": {
    "x": {"field": "t", "type": "quantitative", "scale": {"domain": [0, 48], "range": [27, 188], "nice": false, "zero": false}, "axis": {"values": [0, 12, 24, 36, 48], "title": "Time (hr)", "offset": -27, "labelFontSize": 7}},
    "y": {"field": "v", "type": "quantitative", "scale": {"domain": [0, 14000], "range": [132, 8], "nice": false}, "axis": {"values": [0, 2000, 4000, 6000, 8000, 10000, 12000, 14000], "format": "d", "title": "RLU (counts/5sec)", "offset": -27, "labelFontSize": 7}}
   },
   "layer": [
    {"mark": {"type": "errorband", "color": "#c4c4c4", "opacity": 0.55, "interpolate": "monotone"}, "encoding": {"yError": {"field": "e"}, "detail": {"field": "s"}}},
    {"mark": {"type": "errorbar", "color": "#b0b0b0", "thickness": 0.7}, "encoding": {"yError": {"field": "e"}, "detail": {"field": "s"}}},
    {"mark": {"type": "line", "strokeWidth": 2, "interpolate": "monotone"}, "encoding": {"color": {"field": "s", "type": "nominal", "scale": {"domain": ["10", "5", "2.5", "1.3", "0.6", "0.3", "-"], "range": ["#7aa6dc", "#4f9e55", "#3d60b3", "#eea534", "#8a8a8a", "#d5643c", "#4d7fbc"]}, "legend": null}}},
    {"transform": [{"filter": "datum.t == 0 && datum.s == '10'"}], "mark": {"type": "text", "align": "left", "baseline": "middle", "font": "Noto Sans CJK JP", "fontSize": 12, "color": "#666666"}, "encoding": {"x": {"datum": -19.4}, "y": {"datum": 14395}, "text": {"value": "（A）"}}},
    {"transform": [{"filter": "datum.t == 0 && datum.s == '10'"}], "mark": {"type": "text", "align": "right", "baseline": "middle", "font": "Roboto", "fontWeight": "bold", "fontSize": 8.5, "color": "#1a1a1a"}, "encoding": {"x": {"datum": 28.9}, "y": {"datum": 13660}, "text": {"value": "NF-kB-TK-"}}},
    {"transform": [{"filter": "datum.t == 0 && datum.s == '10'"}], "mark": {"type": "text", "align": "left", "baseline": "middle", "font": "Roboto", "fontWeight": "bold", "fontSize": 8.5, "color": "#1ea84b"}, "encoding": {"x": {"datum": 28.9}, "y": {"datum": 13660}, "text": {"value": "SLG"}}}
   ]
  },
  {
   "width": 207, "height": 159,
   "data": {"name": "B"},
   "encoding": {
    "x": {"field": "t", "type": "quantitative", "scale": {"domain": [0, 48], "range": [32, 192], "nice": false, "zero": false}, "axis": {"values": [0, 12, 24, 36, 48], "title": "Time (hr)", "offset": -26, "labelFontSize": 7}},
    "y": {"field": "v", "type": "quantitative", "scale": {"domain": [0, 25000], "range": [133, 6], "nice": false}, "axis": {"values": [0, 5000, 10000, 15000, 20000, 25000], "format": "d", "title": "RLU (counts/5sec)", "offset": -32, "labelFontSize": 7}}
   },
   "layer": [
    {"mark": {"type": "errorband", "color": "#c4c4c4", "opacity": 0.35, "interpolate": "monotone"}, "encoding": {"yError": {"field": "e"}, "detail": {"field": "s"}}},
    {"mark": {"type": "errorbar", "color": "#b8b8b8", "thickness": 0.6}, "encoding": {"yError": {"field": "e"}, "detail": {"field": "s"}}},
    {"mark": {"type": "line", "strokeWidth": 1.5, "interpolate": "monotone"}, "encoding": {"color": {"field": "s", "type": "nominal", "scale": {"domain": ["10", "5", "2.5", "1.3", "0.6", "0.3", "-"], "range": ["#7aa6dc", "#4f9e55", "#3d60b3", "#eea534", "#8a8a8a", "#d5643c", "#4d7fbc"]}, "legend": null}}},
    {"transform": [{"filter": "datum.t == 0 && datum.s == '10'"}], "mark": {"type": "text", "align": "left", "baseline": "middle", "font": "Noto Sans CJK JP", "fontSize": 12, "color": "#666666"}, "encoding": {"x": {"datum": -20.7}, "y": {"datum": 25295}, "text": {"value": "（B）"}}},
    {"transform": [{"filter": "datum.t == 0 && datum.s == '10'"}], "mark": {"type": "text", "align": "right", "baseline": "middle", "font": "Roboto", "fontWeight": "bold", "fontSize": 9, "color": "#1a1a1a"}, "encoding": {"x": {"datum": 26.0}, "y": {"datum": 24200}, "text": {"value": "TK-"}}},
    {"transform": [{"filter": "datum.t == 0 && datum.s == '10'"}], "mark": {"type": "text", "align": "left", "baseline": "middle", "font": "Roboto", "fontWeight": "bold", "fontSize": 9, "color": "#e8302a"}, "encoding": {"x": {"datum": 26.0}, "y": {"datum": 24200}, "text": {"value": "SLR"}}}
   ]
  }
 ],
 "spacing": 63,
 "bounds": "flush",
 "resolve": {"scale": {"color": "independent"}}
},
{
 "hconcat": [
  {
   "width": 309, "height": 160,
   "data": {"name": "C"},
   "encoding": {
    "x": {"field": "t", "type": "quantitative", "scale": {"domain": [0, 48], "range": [30, 238], "nice": false, "zero": false}, "axis": {"values": [0, 6, 12, 18, 24, 30, 36, 42, 48], "title": "Time (hr)", "offset": -36, "labelFontSize": 8}},
    "y": {"field": "v", "type": "quantitative", "scale": {"domain": [0, 4], "range": [124, 6], "nice": false}, "axis": {"values": [0, 1, 2, 3, 4], "title": "Normalized Intensity (SLG/SLR)", "offset": -30, "labelFontSize": 8}}
   },
   "layer": [
    {"mark": {"type": "errorbar", "ticks": true, "size": 3, "color": "#b5b5b5", "thickness": 0.8}, "encoding": {"yError": {"field": "e"}, "detail": {"field": "s"}}},
    {"mark": {"type": "line", "strokeWidth": 1.5, "interpolate": "monotone"}, "encoding": {"color": {"field": "s", "type": "nominal", "scale": {"domain": ["10", "5", "2.5", "1.3", "0.6", "0.3", "-"], "range": ["#7aa6dc", "#4f9e55", "#3d60b3", "#eea534", "#8a8a8a", "#d5643c", "#4d7fbc"]}}}},
    {"mark": {"type": "point", "filled": false, "size": 14, "strokeWidth": 1}, "encoding": {
      "color": {"field": "s", "type": "nominal", "scale": {"domain": ["10", "5", "2.5", "1.3", "0.6", "0.3", "-"], "range": ["#7aa6dc", "#4f9e55", "#3d60b3", "#eea534", "#8a8a8a", "#d5643c", "#4d7fbc"]}, "legend": {"orient": "none", "legendX": 241, "legendY": 0, "title": null, "labelExpr": "datum.label == '10' ? 'TNF 10ng/ml' : datum.label == '-' ? 'TNF (-)' : datum.label + 'ng/ml'", "labelFont": "Roboto", "labelFontSize": 7.2, "labelColor": "#262626", "rowPadding": 4.3, "padding": 5, "strokeColor": "#a6a6a6", "fillColor": "white", "symbolSize": 12, "symbolStrokeWidth": 1, "labelOffset": 3}},
      "shape": {"field": "s", "type": "nominal", "scale": {"domain": ["10", "5", "2.5", "1.3", "0.6", "0.3", "-"], "range": ["square", "square", "circle", "square", "circle", "circle", "square"]}}
    }},
    {"transform": [{"filter": "datum.t == 0 && datum.s == '10'"}], "mark": {"type": "text", "align": "left", "baseline": "middle", "font": "Noto Sans CJK JP", "fontSize": 12, "color": "#666666"}, "encoding": {"x": {"datum": -15.46}, "y": {"datum": 3.966}, "text": {"value": "（C）"}}},
    {"transform": [{"filter": "datum.t == 0 && datum.s == '10'"}], "mark": {"type": "text", "align": "right", "baseline": "middle", "font": "Roboto", "fontWeight": "bold", "fontSize": 9, "color": "#1a1a1a"}, "encoding": {"x": {"datum": 24.9}, "y": {"datum": 4.0}, "text": {"value": "NF-kB-"}}},
    {"transform": [{"filter": "datum.t == 0 && datum.s == '10'"}], "mark": {"type": "text", "align": "left", "baseline": "middle", "font": "Roboto", "fontWeight": "bold", "fontSize": 9, "color": "#1ea84b"}, "encoding": {"x": {"datum": 24.9}, "y": {"datum": 4.0}, "text": {"value": "SLG"}}},
    {"transform": [{"filter": "datum.t == 0 && datum.s == '10'"}], "mark": {"type": "text", "align": "left", "baseline": "middle", "font": "Roboto", "fontWeight": "bold", "fontSize": 9, "color": "#1a1a1a"}, "encoding": {"x": {"datum": 28.85}, "y": {"datum": 4.0}, "text": {"value": "/TK-"}}},
    {"transform": [{"filter": "datum.t == 0 && datum.s == '10'"}], "mark": {"type": "text", "align": "left", "baseline": "middle", "font": "Roboto", "fontWeight": "bold", "fontSize": 9, "color": "#e8302a"}, "encoding": {"x": {"datum": 33.1}, "y": {"datum": 4.0}, "text": {"value": "SLR"}}}
   ]
  },
  {
   "width": 303, "height": 160,
   "data": {"name": "D"},
   "encoding": {
    "x": {"field": "t", "type": "quantitative", "scale": {"domain": [0, 48], "range": [27, 236], "nice": false, "zero": false}, "axis": {"values": [0, 6, 12, 18, 24, 30, 36, 42, 48], "title": "Time (hr)", "offset": -35, "labelFontSize": 8}},
    "y": {"field": "v", "type": "quantitative", "scale": {"domain": [0, 12], "range": [125, 13], "nice": false}, "axis": {"values": [0, 2, 4, 6, 8, 10, 12], "title": "Fold change", "offset": -27, "labelFontSize": 8}}
   },
   "layer": [
    {"mark": {"type": "errorbar", "ticks": true, "size": 3, "color": "#b5b5b5", "thickness": 0.8}, "encoding": {"yError": {"field": "e"}, "detail": {"field": "s"}}},
    {"mark": {"type": "line", "strokeWidth": 1.5, "interpolate": "monotone"}, "encoding": {"color": {"field": "s", "type": "nominal", "scale": {"domain": ["10", "5", "2.5", "1.3", "0.6", "0.3"], "range": ["#7aa6dc", "#4f9e55", "#3d60b3", "#eea534", "#8a8a8a", "#d5643c"]}}}},
    {"mark": {"type": "point", "filled": false, "size": 14, "strokeWidth": 1, "shape": "circle"}, "encoding": {
      "color": {"field": "s", "type": "nominal", "scale": {"domain": ["10", "5", "2.5", "1.3", "0.6", "0.3"], "range": ["#7aa6dc", "#4f9e55", "#3d60b3", "#eea534", "#8a8a8a", "#d5643c"]}, "legend": {"orient": "none", "legendX": 243, "legendY": 8, "title": null, "symbolType": "circle", "labelExpr": "datum.label == '10' ? 'TNF 10ng/ml' : datum.label + 'ng/ml'", "labelFont": "Roboto", "labelFontSize": 7.2, "labelColor": "#262626", "rowPadding": 6.5, "padding": 5, "strokeColor": "#a6a6a6", "fillColor": "white", "symbolSize": 12, "symbolStrokeWidth": 1, "labelOffset": 3}}
    }},
    {"transform": [{"filter": "datum.t == 0 && datum.s == '10'"}], "mark": {"type": "text", "align": "left", "baseline": "middle", "font": "Noto Sans CJK JP", "fontSize": 12, "color": "#666666"}, "encoding": {"x": {"datum": -13.55}, "y": {"datum": 12.96}, "text": {"value": "（D）"}}},
    {"transform": [{"filter": "datum.t == 0 && datum.s == '10'"}], "mark": {"type": "text", "align": "center", "baseline": "middle", "lineHeight": 12, "font": "Roboto", "fontWeight": "bold", "fontSize": 10, "color": "#1a1a1a"}, "encoding": {"x": {"datum": 27.1}, "y": {"datum": 11.25}, "text": {"value": ["Fold change", "(+TNF/cont.)"]}}}
   ]
  }
 ],
 "spacing": 63,
 "bounds": "flush",
 "resolve": {"scale": {"color": "independent", "shape": "independent"}, "legend": {"color": "independent", "shape": "independent"}}
}
],
"spacing": 33,
"resolve": {"scale": {"color": "independent", "shape": "independent"}, "legend": {"color": "independent", "shape": "independent"}}
}
